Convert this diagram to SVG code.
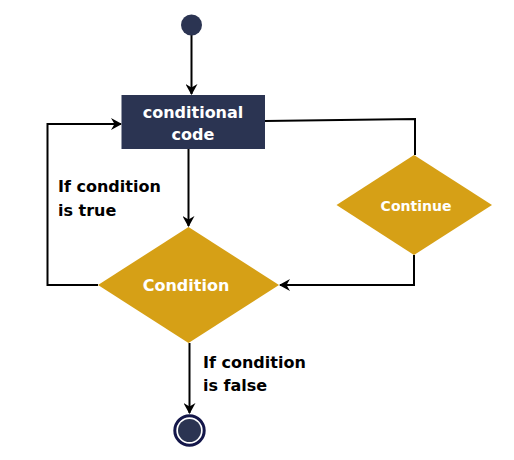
<svg xmlns="http://www.w3.org/2000/svg" width="514" height="460" viewBox="0 0 514 460">
<defs>
<style>
.ln{fill:none;stroke:#000;stroke-width:2}
.lbl{font-family:"DejaVu Sans",sans-serif;font-weight:bold;font-size:16px;fill:#000}
.wt{font-family:"DejaVu Sans",sans-serif;font-weight:bold;fill:#fff;text-anchor:middle}
.gold{fill:#d6a016}
.navy{fill:#2b3452}
</style>
<marker id="ah" viewBox="0 0 11 12" refX="10" refY="6" markerWidth="11" markerHeight="12" markerUnits="userSpaceOnUse" orient="auto">
<path d="M0,0 L11,6 L0,12 L3.5,6 Z" fill="#000"/>
</marker>
</defs>
<rect width="514" height="460" fill="#fff"/>
<g id="connectors">
<line class="ln" x1="191.5" y1="35" x2="191.5" y2="94" marker-end="url(#ah)"/>
<line class="ln" x1="188.5" y1="149" x2="188.5" y2="226" marker-end="url(#ah)"/>
<polyline class="ln" points="265,121 415,119 415,155"/>
<polyline class="ln" points="414,255 414,285 280,285" marker-end="url(#ah)"/>
<polyline class="ln" points="98,285 47.5,285 47.5,124 121,124" marker-end="url(#ah)"/>
<line class="ln" x1="189.5" y1="343" x2="189.5" y2="413" marker-end="url(#ah)"/>
</g>
<g id="start">
<circle class="navy" cx="191.5" cy="25" r="10.5"/>
</g>
<g id="code">
<rect class="navy" x="121.5" y="95" width="143.5" height="54"/>
<text class="wt" x="193" y="118" font-size="16">conditional</text>
<text class="wt" x="193" y="140" font-size="16">code</text>
</g>
<g id="condition">
<polygon class="gold" points="188.5,227 279,285 188.5,343 98,285"/>
<text class="wt" x="186" y="291" font-size="16">Condition</text>
</g>
<g id="continue">
<polygon class="gold" points="414,155 492,205 414,255 336.5,205"/>
<text class="wt" x="416" y="211" font-size="14">Continue</text>
</g>
<g id="end">
<circle cx="189.5" cy="430.5" r="14.7" fill="#fff" stroke="#14174a" stroke-width="3"/>
<circle class="navy" cx="189.5" cy="430.5" r="11.5"/>
</g>
<g id="labels">
<text class="lbl" x="58" y="192">If condition</text>
<text class="lbl" x="58" y="216">is true</text>
<text class="lbl" x="203" y="368">If condition</text>
<text class="lbl" x="203" y="391">is false</text>
</g>
</svg>
